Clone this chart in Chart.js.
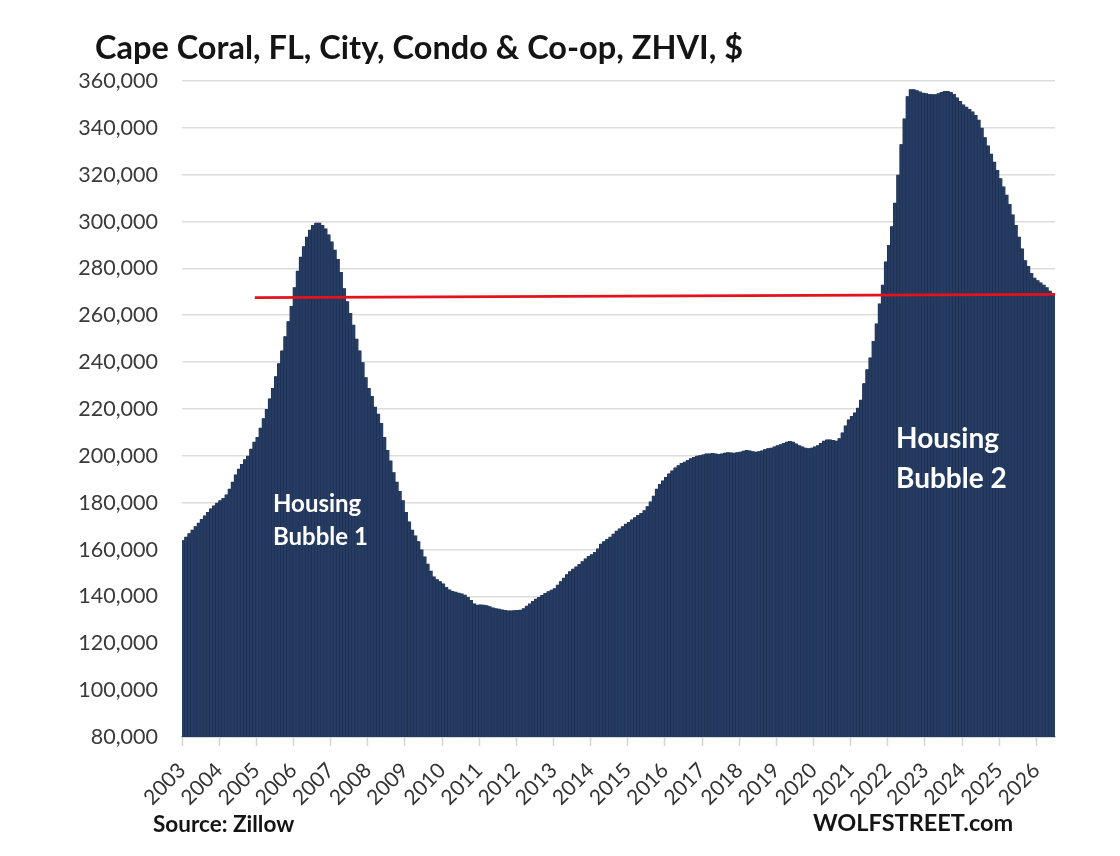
<!DOCTYPE html>
<html><head><meta charset="utf-8">
<script src="https://cdn.jsdelivr.net/npm/chart.js@4.4.1/dist/chart.umd.min.js"></script>
<style>html,body{margin:0;padding:0;background:#fff;} canvas{display:block;}</style>
</head><body>
<canvas id="c" width="1120" height="856"></canvas>
<script>
// ---------- DATA ----------
const startYear = 2003; // first bar = Jan 2003, monthly
const zhviThousands = [
  164, 165.5, 167, 168.5, 170, 171.5, 173, 174.5, 176, 177.5, 178.8, 180,
  181, 182, 183.5, 186, 189, 192, 194.5, 196.5, 198.5, 200, 203, 206,
  208, 212, 216, 220, 224.5, 229, 234, 239.5, 245, 251, 257.5, 264,
  272, 279, 285, 289.5, 293.5, 296.5, 298.5, 299.5, 299.5, 298.5, 297, 294.5,
  291.5, 288, 284, 278.5, 271.5, 266, 261, 256, 250, 245, 240, 233.5,
  229, 225.5, 221, 218, 214, 208, 202.5, 198, 193, 189, 185, 181,
  176, 172, 168.5, 166, 163.5, 160, 157, 154, 151, 148.5, 147.3, 146.5,
  145.5, 144, 143, 142.3, 142, 141.6, 141.3, 140.7, 139.8, 138.5, 137, 136.5,
  136.6, 136.5, 136.2, 135.8, 135.3, 135, 134.7, 134.4, 134.2, 134, 134, 134.1,
  134.2, 134.3, 135, 136, 137, 138, 139, 139.8, 140.6, 141.5, 142.2, 142.9,
  143.5, 145, 146.5, 148, 149.5, 150.8, 151.8, 152.8, 153.8, 155, 156.2, 157.3,
  158, 159, 160.5, 162.5, 163.5, 164.5, 165.5, 166.7, 168, 169, 170, 171,
  171.8, 172.8, 173.8, 174.8, 175.6, 176.8, 178.5, 180.5, 183, 186, 188, 189.5,
  191, 192.5, 193.8, 195, 196, 197, 197.5, 198.2, 199, 199.5, 200, 200.3,
  200.6, 201, 201, 201.2, 201, 200.8, 201, 201.3, 201.5, 201.4, 201.3, 201.5,
  201.8, 202.2, 202.5, 202.3, 202, 201.8, 202, 202.3, 202.8, 203.2, 203.5, 204,
  204.5, 205, 205.5, 206, 206.3, 206, 205.3, 204.5, 204, 203.5, 203.3, 203.5,
  204, 204.5, 205.5, 206.5, 207, 207, 206.8, 206.5, 207.5, 210, 213, 215.5,
  217, 218.5, 220.5, 224, 231, 237, 242, 249, 256.5, 265, 273, 283,
  290, 298, 308, 320, 333, 344, 353.5, 356.5, 356.5, 356, 355.5, 355,
  354.8, 354.5, 354.3, 354.3, 354.8, 355.3, 355.7, 355.7, 355.3, 354.5, 353, 351.5,
  350, 349, 348, 347, 345.5, 343.5, 340, 336, 332.5, 329, 325.5, 322,
  318.5, 315, 311.5, 307.5, 303, 298.5, 293.5, 288.5, 283.5, 281, 278, 276,
  275, 274, 273, 272, 270.5, 269.3
];
const tickYears = [2003,2004,2005,2006,2007,2008,2009,2010,2011,2012,2013,2014,2015,2016,2017,2018,2019,2020,2021,2022,2023,2024,2025,2026];
const yTickValues = [80000,100000,120000,140000,160000,180000,200000,220000,240000,260000,280000,300000,320000,340000,360000];
const refLineYears = [2004.96, 2026.5];
const refLineValues = [267500, 268900];
const titleText = "Cape Coral, FL, City, Condo & Co-op, ZHVI, $";
const bubble1Lines = ["Housing", "Bubble 1"];
const bubble2Lines = ["Housing", "Bubble 2"];
const sourceText = "Source: Zillow";
const brandText = "WOLFSTREET.com";

// ---------- BUILD ----------
const barPoints = zhviThousands.map((v, i) => ({ x: startYear + (i + 0.5) / 12, y: v * 1000 }));
const linePoints = refLineYears.map((x, i) => ({ x: x, y: refLineValues[i] }));
const xMax = startYear + zhviThousands.length / 12;

const textPlugin = {
  id: 'texts',
  afterDatasetsDraw(chart) {
    const ctx = chart.ctx;
    ctx.save();
    ctx.fillStyle = '#ffffff';
    ctx.textAlign = 'left';
    ctx.textBaseline = 'alphabetic';
    ctx.font = 'bold 24px Lato';
    ctx.fillText(bubble1Lines[0], 273, 512);
    ctx.fillText(bubble1Lines[1], 273, 545);
    ctx.font = 'bold 28px Lato';
    ctx.fillText(bubble2Lines[0], 896, 448);
    ctx.fillText(bubble2Lines[1], 896, 488);
    ctx.restore();
  },
  afterDraw(chart) {
    const ctx = chart.ctx;
    ctx.save();
    ctx.textAlign = 'left';
    ctx.textBaseline = 'alphabetic';
    ctx.fillStyle = '#141414';
    ctx.font = 'bold 32.5px Lato';
    ctx.fillText(titleText, 95, 59);
    ctx.font = 'bold 22.5px Lato';
    ctx.fillText(sourceText, 153, 832);
    ctx.font = 'bold 23.5px Lato';
    ctx.fillText(brandText, 813, 831);
    ctx.restore();
  }
};

new Chart(document.getElementById('c'), {
  type: 'bar',
  data: {
    datasets: [
      {
        type: 'line',
        data: linePoints,
        borderColor: '#e3121b',
        borderWidth: 2.8,
        pointRadius: 0,
        fill: false,
        order: 0
      },
      {
        type: 'bar',
        data: barPoints,
        backgroundColor: '#263c63',
        borderColor: '#1c2d4c',
        borderWidth: { left: 0.7, right: 0, top: 0, bottom: 0 },
        borderSkipped: false,
        inflateAmount: 1,
        barPercentage: 1,
        categoryPercentage: 1,
        order: 1
      }
    ]
  },
  options: {
    responsive: false,
    animation: false,
    devicePixelRatio: 1,
    layout: { padding: { top: 81, right: 65, bottom: 0, left: 0 } },
    plugins: { legend: { display: false }, title: { display: false }, tooltip: { enabled: false } },
    scales: {
      x: {
        type: 'linear',
        min: startYear,
        max: xMax,
        offset: false,
        afterFit: (s) => { s.height = 119; },
        grid: { display: true, offset: false, drawOnChartArea: false, drawTicks: true, tickLength: 9, tickColor: '#d4d4d4', tickWidth: 1.5 },
        border: { display: true, color: '#b9c0cc', width: 1.5 },
        ticks: {
          stepSize: 1,
          includeBounds: false,
          autoSkip: false,
          minRotation: 45,
          maxRotation: 45,
          padding: 12,
          color: '#333333',
          font: { family: 'Lato', size: 21 },
          callback: (v) => tickYears.includes(v) ? String(v) : null
        }
      },
      y: {
        type: 'linear',
        min: yTickValues[0],
        max: yTickValues[yTickValues.length - 1],
        afterFit: (s) => { s.width = 182; },
        afterBuildTicks: (s) => { s.ticks = yTickValues.map(v => ({ value: v })); },
        grid: { color: '#dcdcdc', lineWidth: 1.6, drawTicks: false },
        border: { display: false },
        ticks: {
          padding: 24,
          color: '#3a3a3a',
          font: { family: 'Lato', size: 21.5 },
          callback: (v) => v.toLocaleString('en-US')
        }
      }
    }
  },
  plugins: [textPlugin]
});
</script>
</body></html>
